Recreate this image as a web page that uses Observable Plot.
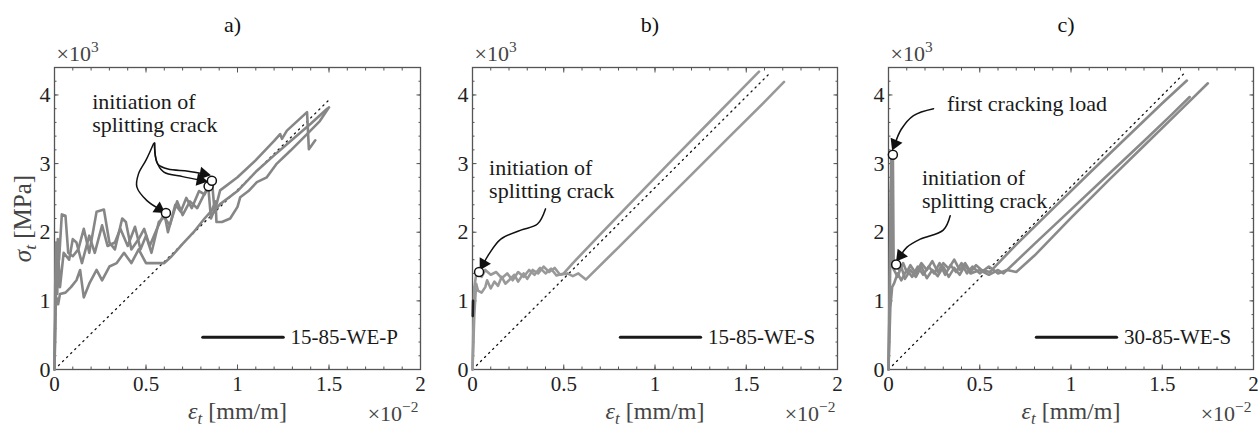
<!DOCTYPE html>
<html><head><meta charset="utf-8">
<script src="https://cdn.jsdelivr.net/npm/d3@7"></script>
<script src="https://cdn.jsdelivr.net/npm/@observablehq/plot@0.6"></script>
<style>
body{margin:0;background:#fff;}
#wrap{position:relative;width:1258px;height:429px;overflow:hidden;}
#wrap > div{position:absolute;top:0;}
#wrap svg, #wrap svg text{font-family:serif !important;}
</style></head><body><div id="wrap"></div>
<script>
// ---------- tick labels ----------
const xMajor = [0, 0.5, 1, 1.5, 2];
const xMajorLabels = ["0", "0.5", "1", "1.5", "2"];
const yMajor = [0, 1, 2, 3, 4];
const yMajorLabels = ["0", "1", "2", "3", "4"];

// ---------- panel a) 15-85-WE-P  (strain ×10^-2, stress ×10^3) ----------
const a1 = [[0,0],[0.004,1.2],[0.008,1.85],[0.012,1.3],[0.018,1.9],[0.025,1.6],[0.04,2.26],[0.06,2.24],[0.075,1.7],[0.1,1.65],[0.13,1.75],[0.16,2.05],[0.19,1.7],[0.23,2.3],[0.27,2.33],[0.3,1.85],[0.33,1.75],[0.37,2.2],[0.39,2.15],[0.42,1.75],[0.46,1.9],[0.49,2.05],[0.52,1.8],[0.56,2.05],[0.6,2.28],[0.62,2.0],[0.66,2.4],[0.69,2.3],[0.72,2.5],[0.75,2.35],[0.79,2.6],[0.82,2.55],[0.86,2.76],[0.875,2.3],[0.905,2.61],[1.0,2.8],[1.1,3.05],[1.2,3.33],[1.233,3.43],[1.243,3.36],[1.27,3.48],[1.38,3.75],[1.39,3.21],[1.425,3.34]];
const a2 = [[0,0],[0.006,0.95],[0.01,1.5],[0.015,1.1],[0.02,1.7],[0.03,1.2],[0.05,1.7],[0.08,1.6],[0.1,1.9],[0.12,1.85],[0.15,1.55],[0.19,1.95],[0.22,1.7],[0.26,2.1],[0.29,1.8],[0.33,1.85],[0.36,2.05],[0.4,1.8],[0.44,2.08],[0.47,1.75],[0.5,1.95],[0.53,1.7],[0.57,2.15],[0.6,2.22],[0.63,2.1],[0.67,2.45],[0.7,2.25],[0.74,2.45],[0.78,2.35],[0.84,2.67],[0.855,2.2],[0.87,2.3],[0.905,2.41],[1.0,2.6],[1.1,2.88],[1.2,3.12],[1.3,3.35],[1.4,3.58],[1.49,3.8]];
const a3 = [[0,0],[0.005,0.85],[0.01,1.05],[0.02,0.95],[0.03,1.1],[0.06,1.12],[0.09,1.2],[0.12,1.3],[0.14,1.45],[0.16,1.05],[0.19,1.25],[0.23,1.45],[0.26,1.3],[0.3,1.5],[0.34,1.55],[0.38,1.7],[0.42,1.55],[0.46,1.75],[0.5,1.55],[0.55,1.55],[0.6,1.55],[0.64,1.65],[0.7,1.83],[0.76,2.0],[0.82,2.2],[0.86,2.32],[0.88,2.45],[0.885,2.15],[0.915,2.15],[0.96,2.2],[1.0,2.37],[1.015,2.51],[1.06,2.6],[1.106,2.73],[1.16,2.8],[1.215,3.0],[1.29,3.19],[1.38,3.43],[1.45,3.62],[1.5,3.82]];
const refA = [[0,0],[1.497,3.92]];
const pointsA = [[0.609,2.28],[0.842,2.67],[0.86,2.75]];
const arrowsA = [
  [[0.541,3.29],[0.5,3.05],[0.459,2.85],[0.45,2.66],[0.505,2.46],[0.572,2.34]],
  [[0.545,3.3],[0.552,3.1],[0.565,2.99],[0.62,2.92],[0.73,2.89],[0.815,2.85]],
  [[0.548,3.3],[0.556,3.05],[0.596,2.88],[0.7,2.81],[0.798,2.76]]
];

// ---------- panel b) 15-85-WE-S ----------
const b1 = [[0,0],[0.01,1.2],[0.02,1.38],[0.036,1.42],[0.05,1.35],[0.07,1.45],[0.1,1.38],[0.13,1.42],[0.16,1.33],[0.19,1.4],[0.22,1.3],[0.25,1.42],[0.28,1.35],[0.31,1.45],[0.34,1.38],[0.37,1.48],[0.4,1.4],[0.43,1.47],[0.46,1.37],[0.5,1.4],[0.55,1.55],[0.7,1.97],[0.9,2.52],[1.1,3.07],[1.3,3.61],[1.5,4.15],[1.57,4.34]];
const b2 = [[0,0],[0.01,0.8],[0.02,1.25],[0.03,1.15],[0.05,1.12],[0.07,1.2],[0.08,1.3],[0.1,1.18],[0.12,1.28],[0.14,1.22],[0.16,1.35],[0.18,1.25],[0.2,1.3],[0.23,1.38],[0.25,1.28],[0.28,1.4],[0.3,1.32],[0.33,1.45],[0.36,1.4],[0.39,1.5],[0.42,1.42],[0.45,1.48],[0.48,1.38],[0.52,1.4],[0.55,1.36],[0.58,1.4],[0.621,1.31],[0.8,1.78],[1.0,2.31],[1.2,2.84],[1.4,3.37],[1.6,3.9],[1.707,4.19]];
const bBlack = [[0.0015,0.78],[0.003,1.0]];
const refB = [[0,0],[1.634,4.33]];
const pointsB = [[0.036,1.42]];
const arrowsB = [
  [[0.40,2.34],[0.356,2.12],[0.265,2.03],[0.155,1.9],[0.09,1.68],[0.06,1.54]]
];

// ---------- panel c) 30-85-WE-S ----------
const c1 = [[0,0],[0.005,1.0],[0.01,2.0],[0.015,3.1],[0.024,3.13],[0.028,1.6],[0.042,1.53],[0.06,1.45],[0.08,1.55],[0.1,1.42],[0.12,1.52],[0.15,1.4],[0.18,1.55],[0.21,1.45],[0.24,1.58],[0.27,1.42],[0.3,1.55],[0.33,1.47],[0.36,1.6],[0.39,1.45],[0.42,1.55],[0.45,1.42],[0.48,1.52],[0.51,1.45],[0.555,1.42],[0.7,1.82],[0.9,2.34],[1.1,2.86],[1.3,3.37],[1.5,3.88],[1.635,4.21]];
const c2 = [[0,0],[0.008,1.2],[0.012,2.5],[0.018,3.0],[0.022,1.5],[0.03,1.45],[0.05,1.35],[0.07,1.5],[0.09,1.32],[0.12,1.45],[0.15,1.35],[0.18,1.5],[0.21,1.33],[0.24,1.45],[0.27,1.36],[0.3,1.5],[0.33,1.35],[0.36,1.48],[0.39,1.38],[0.42,1.52],[0.45,1.4],[0.5,1.45],[0.55,1.38],[0.6,1.45],[0.63,1.4],[0.8,1.83],[1.0,2.33],[1.2,2.83],[1.4,3.33],[1.55,3.71],[1.65,3.97]];
const c3 = [[0,0],[0.01,0.9],[0.02,1.2],[0.03,1.25],[0.05,1.4],[0.07,1.3],[0.1,1.45],[0.13,1.35],[0.16,1.5],[0.19,1.38],[0.22,1.5],[0.25,1.4],[0.28,1.55],[0.31,1.38],[0.34,1.52],[0.37,1.42],[0.4,1.55],[0.43,1.4],[0.46,1.5],[0.5,1.4],[0.55,1.5],[0.6,1.4],[0.65,1.45],[0.7,1.42],[0.8,1.66],[1.0,2.21],[1.2,2.74],[1.4,3.26],[1.6,3.78],[1.75,4.17]];
const refC = [[0,0],[1.626,4.33]];
const pointsC = [[0.024,3.13],[0.042,1.53]];
const arrowsC = [
  [[0.247,3.8],[0.137,3.70],[0.07,3.5],[0.036,3.29]],
  [[0.338,2.24],[0.30,2.03],[0.174,1.90],[0.10,1.78],[0.066,1.66]]
];

// ---------- panel configuration ----------
const panels = [
  {left: 0, width: 426, ml: 54, mr: 6, title: "a)", curves: [a1, a2, a3], extra: [], ref: refA, points: pointsA, arrows: arrowsA,
   notes: [{x: 0.206, y: 3.73, t: "initiation of\nsplitting crack"}], legend: "15-85-WE-P", yLabel: true, color: "#868686"},
  {left: 426, width: 416, ml: 46, mr: 5, title: "b)", curves: [b1, b2], extra: [bBlack], ref: refB, points: pointsB, arrows: arrowsB,
   notes: [{x: 0.091, y: 2.78, t: "initiation of\nsplitting crack"}], legend: "15-85-WE-S", yLabel: false, color: "#999999"},
  {left: 842, width: 416, ml: 46, mr: 5, title: "c)", curves: [c1, c2, c3], extra: [], ref: refC, points: pointsC, arrows: arrowsC,
   notes: [{x: 0.32, y: 3.88, t: "first cracking load"}, {x: 0.183, y: 2.63, t: "initiation of\nsplitting crack"}], legend: "30-85-WE-S", yLabel: false, color: "#8a8a8a"}
];

const H = 429, MT = 67, MB = 60;
const X = d => d[0], Y = d => d[1];

function richify(svg) {
  const NS = "http://www.w3.org/2000/svg";
  for (const t of svg.querySelectorAll("text")) {
    if (t.querySelector("tspan")) continue;
    const s = t.textContent;
    if (!/[\^_]\{/.test(s)) continue;
    const g = t.closest("[font-size]");
    const fs = parseFloat(t.getAttribute("font-size") || (g && g.getAttribute("font-size"))) || 21;
    t.textContent = "";
    const parts = s.split(/([\^_]\{[^}]*\}|[σε])/);
    let shift = 0;
    for (const p of parts) {
      if (!p) continue;
      const ts = document.createElementNS(NS, "tspan");
      let target = 0, txt = p;
      if (p[0] === "^" || p[0] === "_") {
        txt = p.slice(2, -1).replace("-", "\u2212");
        target = p[0] === "^" ? -0.38 * fs : 0.2 * fs;
        ts.setAttribute("font-size", (0.7 * fs).toFixed(1));
        if (p[0] === "_") ts.setAttribute("font-style", "italic");
      } else if (/[σε]/.test(p)) {
        ts.setAttribute("font-style", "italic");
      }
      if (target !== shift) { ts.setAttribute("dy", (target - shift).toFixed(1)); shift = target; }
      ts.textContent = txt;
      t.appendChild(ts);
    }
  }
}

const wrap = document.getElementById("wrap");
for (const p of panels) {
  const kx = (p.width - p.ml - p.mr) / 2, ky = (H - MT - MB) / 4.4;
  const heads = p.arrows.map(a => {
    const q = a[a.length - 1], r = a[a.length - 2];
    const dxp = (q[0] - r[0]) * kx, dyp = -(q[1] - r[1]) * ky;
    return {x: q[0], y: q[1], rot: Math.atan2(dxp, -dyp) * 180 / Math.PI};
  });
  const tickStyle = {stroke: "#555", label: null, tickFormat: () => ""};
  const marks = [
    // minor ticks (inward, all four sides)
    Plot.axisX(d3.range(0, 2.0001, 0.1), {anchor: "bottom", tickSize: -2.5, ...tickStyle}),
    Plot.axisX(d3.range(0, 2.0001, 0.1), {anchor: "top", tickSize: -2.5, ...tickStyle}),
    Plot.axisY(d3.range(0, 4.4001, 0.2), {anchor: "left", tickSize: -2.5, ...tickStyle}),
    Plot.axisY(d3.range(0, 4.4001, 0.2), {anchor: "right", tickSize: -2.5, ...tickStyle}),
    // major ticks
    Plot.axisX(xMajor, {anchor: "top", tickSize: -4.5, ...tickStyle}),
    Plot.axisY(yMajor, {anchor: "right", tickSize: -4.5, ...tickStyle}),
    Plot.axisX(xMajor, {anchor: "bottom", tickSize: -4.5, tickPadding: 11.5, stroke: "#555", label: null, fontSize: 21,
      tickFormat: d => xMajorLabels[xMajor.indexOf(d)]}),
    Plot.axisY(yMajor, {anchor: "left", tickSize: -4.5, tickPadding: 8.5, stroke: "#555", label: null, fontSize: 22,
      tickFormat: d => yMajorLabels[yMajor.indexOf(d)]}),
    Plot.frame({stroke: "#555", strokeWidth: 1.3}),
    // reference (dotted) line
    Plot.line(p.ref, {x: X, y: Y, stroke: "#111", strokeWidth: 1.3, strokeDasharray: "1.3,4.4"}),
    // measured curves
    ...p.curves.map(c => Plot.line(c, {x: X, y: Y, stroke: p.color, strokeWidth: 2.6, strokeLinejoin: "round"})),
    ...p.extra.map(c => Plot.line(c, {x: X, y: Y, stroke: "#222", strokeWidth: 2.6})),
    // annotation arrows
    ...p.arrows.map(a => Plot.line(a, {x: X, y: Y, curve: "catmull-rom", stroke: "#111", strokeWidth: 1.5})),
    Plot.dot(heads, {x: "x", y: "y", rotate: "rot", symbol: "triangle", r: 4.8, fill: "#111", stroke: "none"}),
    Plot.dot(p.points, {x: X, y: Y, r: 4.5, fill: "white", stroke: "#111", strokeWidth: 1.5}),
    Plot.text(p.notes, {x: "x", y: "y", text: "t", textAnchor: "start", lineAnchor: "middle", lineHeight: 1.05, fontSize: 22, fill: "#1a1a1a"}),
    // legend
    Plot.line([[0.81, 0.47], [1.25, 0.47]], {x: X, y: Y, stroke: "#1a1a1a", strokeWidth: 3}),
    Plot.text([p.legend], {x: 1.29, y: 0.47, text: d => d, textAnchor: "start", lineAnchor: "middle", fontSize: 21, fill: "#1a1a1a"}),
    // titles & labels
    Plot.text([p.title], {frameAnchor: "top", text: d => d, textAnchor: "middle", lineAnchor: "middle", dy: -43, dx: -5, fontSize: 22, fill: "#111"}),
    Plot.text(["×10^{3}"], {frameAnchor: "top-left", text: d => d, textAnchor: "start", lineAnchor: "middle", dx: 2, dy: -14, fontSize: 22, fill: "#444"}),
    Plot.text(["×10^{-2}"], {frameAnchor: "bottom-right", text: d => d, textAnchor: "end", lineAnchor: "middle", dx: -2, dy: 44, fontSize: 22, fill: "#444"}),
    Plot.text(["ε_{t} [mm/m]"], {frameAnchor: "bottom", text: d => d, textAnchor: "middle", lineAnchor: "middle", dy: 42, fontSize: 24, fill: "#444"})
  ];
  if (p.yLabel) marks.push(Plot.text(["σ_{t} [MPa]"], {frameAnchor: "left", text: d => d, textAnchor: "middle", lineAnchor: "middle", rotate: -90, dx: -32, fontSize: 25, fill: "#444"}));

  const svg = Plot.plot({
    width: p.width, height: H,
    marginTop: MT, marginBottom: MB, marginLeft: p.ml, marginRight: p.mr,
    x: {domain: [0, 2]},
    y: {domain: [0, 4.4]},
    style: "font-family: serif; font-size: 21px; color: #222; background: white; overflow: visible;",
    marks
  });
  richify(svg);
  const div = document.createElement("div");
  div.style.left = p.left + "px";
  div.appendChild(svg);
  wrap.appendChild(div);
}
</script>
</body></html>
